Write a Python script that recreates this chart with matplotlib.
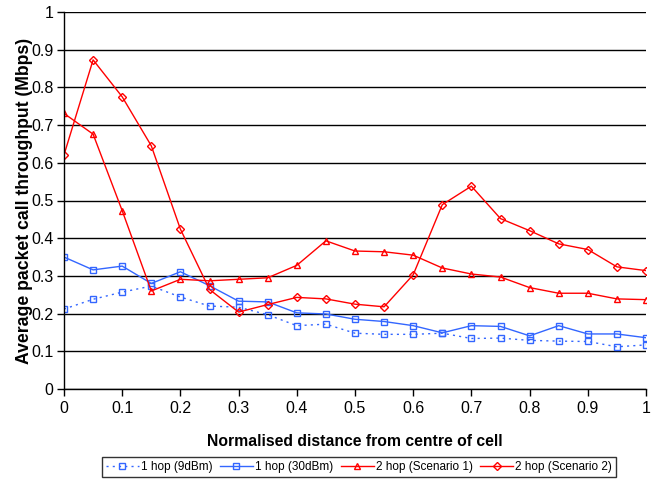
import numpy as np
import matplotlib.pyplot as plt

plt.rcParams['font.family'] = ['Liberation Sans', 'DejaVu Sans']

# distance from the cell centre (normalised)
dist = np.round(np.arange(0, 1.0001, 0.05), 2)

hop1_9dbm = [0.212, 0.238, 0.257, 0.273, 0.244, 0.220, 0.217, 0.197, 0.168, 0.172, 0.148,
             0.145, 0.145, 0.148, 0.134, 0.135, 0.129, 0.127, 0.126, 0.112, 0.117]
hop1_30dbm = [0.350, 0.316, 0.326, 0.280, 0.311, 0.274, 0.233, 0.231, 0.202, 0.199, 0.185,
              0.179, 0.168, 0.149, 0.168, 0.166, 0.141, 0.168, 0.146, 0.146, 0.136]
hop2_sc1 = [0.731, 0.676, 0.473, 0.260, 0.291, 0.287, 0.291, 0.295, 0.328, 0.393, 0.366,
            0.364, 0.355, 0.321, 0.305, 0.297, 0.269, 0.254, 0.254, 0.239, 0.237]
hop2_sc2 = [0.621, 0.873, 0.775, 0.645, 0.424, 0.264, 0.204, 0.224, 0.243, 0.239, 0.225,
            0.218, 0.303, 0.489, 0.538, 0.452, 0.420, 0.385, 0.370, 0.324, 0.314]

labels = ["1 hop (9dBm)", "1 hop (30dBm)", "2 hop (Scenario 1)", "2 hop (Scenario 2)"]

blue = '#3366ff'
red = '#ff0000'

fig = plt.figure(figsize=(6.64, 4.82), dpi=100)
ax = fig.add_axes([64/664, 1 - 389/482, 582/664, 377/482])

ax.plot(dist, hop1_9dbm, color=blue, lw=1, ls=(0, (1.5, 3)), marker='s', ms=5,
        mfc='none', mec=blue, mew=1, label=labels[0])
ax.plot(dist, hop1_30dbm, color=blue, lw=1, marker='s', ms=5,
        mfc='none', mec=blue, mew=1, label=labels[1])
ax.plot(dist, hop2_sc1, color=red, lw=1, marker='^', ms=5,
        mfc='none', mec=red, mew=1, label=labels[2])
ax.plot(dist, hop2_sc2, color=red, lw=1, marker='D', ms=4,
        mfc='none', mec=red, mew=1, label=labels[3])

ax.set_xlim(0, 1)
ax.set_ylim(0, 1)
ax.set_xticks(np.arange(0, 1.01, 0.1))
ax.set_xticklabels(['0', '0.1', '0.2', '0.3', '0.4', '0.5', '0.6', '0.7', '0.8', '0.9', '1'])
ax.set_yticks(np.arange(0, 1.01, 0.1))
ax.set_yticklabels(['0', '0.1', '0.2', '0.3', '0.4', '0.5', '0.6', '0.7', '0.8', '0.9', '1'])
ax.tick_params(direction='out', length=5, width=1, labelsize=11.5, colors='black')
ax.tick_params(axis='y', pad=2.5)
ax.yaxis.grid(True, color='black', lw=1)
ax.set_axisbelow(True)
for s in ['top', 'right']:
    ax.spines[s].set_visible(False)
for s in ['left', 'bottom']:
    ax.spines[s].set_linewidth(1)

ax.set_xlabel('Normalised distance from centre of cell', fontsize=11.3, fontweight='bold', labelpad=13)
ax.set_ylabel('Average packet call throughput (Mbps)', fontsize=12.7, fontweight='bold', labelpad=-1)

leg = fig.legend(loc='center', bbox_to_anchor=(359/664, 1 - 467/482), ncol=4, fontsize=8.5,
                 frameon=True, fancybox=False, edgecolor='black', handlelength=2.8,
                 handletextpad=0.2, columnspacing=0.6, borderpad=0.3)
leg.get_frame().set_linewidth(1)

fig.savefig('out.png', dpi=100)
